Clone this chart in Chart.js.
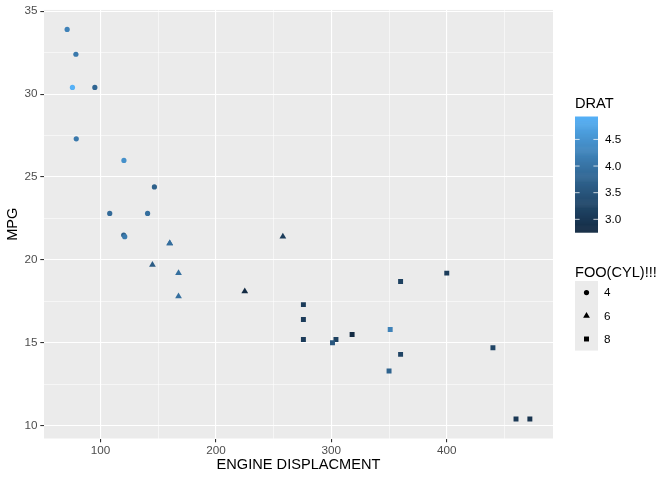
<!DOCTYPE html>
<html>
<head>
<meta charset="utf-8">
<script src="https://cdn.jsdelivr.net/npm/chart.js@4/dist/chart.umd.min.js"></script>
<style>
  html, body { margin: 0; padding: 0; background: #ffffff; }
  #wrap { width: 672px; height: 480px; }
</style>
</head>
<body>
<div id="wrap"><canvas id="chart" width="672" height="480"></canvas></div>
<script>
// mtcars: displacement vs mpg, colour = rear axle ratio, shape = cylinders
const carDisp = [160, 160, 108, 258, 360, 225, 360, 146.7, 140.8, 167.6, 167.6, 275.8, 275.8, 275.8, 472, 460,
                 440, 78.7, 75.7, 71.1, 120.1, 318, 304, 350, 400, 79, 120.3, 95.1, 351, 145, 301, 121];
const carMpg  = [21.0, 21.0, 22.8, 21.4, 18.7, 18.1, 14.3, 24.4, 22.8, 19.2, 17.8, 16.4, 17.3, 15.2, 10.4, 10.4,
                 14.7, 32.4, 30.4, 33.9, 21.5, 15.5, 15.2, 13.3, 19.2, 27.3, 26.0, 30.4, 15.8, 19.7, 15.0, 21.4];
const carDrat = [3.90, 3.90, 3.85, 3.08, 3.15, 2.76, 3.21, 3.69, 3.92, 3.92, 3.92, 3.07, 3.07, 3.07, 2.93, 3.00,
                 3.23, 4.08, 4.93, 4.22, 3.70, 2.76, 3.15, 3.73, 3.08, 4.08, 4.43, 3.77, 4.22, 3.62, 3.54, 4.11];
const carCyl  = [6, 6, 4, 6, 8, 6, 8, 4, 4, 6, 6, 8, 8, 8, 8, 8,
                 8, 4, 4, 4, 4, 8, 8, 8, 8, 4, 4, 4, 8, 6, 8, 4];

const cylLevels = [4, 6, 8];
const cylShapes = ['circle', 'triangle', 'rect'];
const cylRadius = [2.6, 3.9, 3.5];

const xMajor = [100, 200, 300, 400];
const xMinor = [150, 250, 350, 450];
const yMajor = [10, 15, 20, 25, 30, 35];
const yMinor = [12.5, 17.5, 22.5, 27.5, 32.5];
const dratTicks = [3.0, 3.5, 4.0, 4.5];

// ggplot-like continuous scale, interpolated in CIELAB
const lowCol = '#132B43', highCol = '#56B1F7';
const dratMin = Math.min(...carDrat), dratMax = Math.max(...carDrat);

function hexToRgb(h) {
    return [1, 3, 5].map(i => parseInt(h.substr(i, 2), 16));
}
function toLin(c) { c /= 255; return c <= 0.04045 ? c / 12.92 : Math.pow((c + 0.055) / 1.055, 2.4); }
function fromLin(c) {
    c = c <= 0.0031308 ? 12.92 * c : 1.055 * Math.pow(c, 1 / 2.4) - 0.055;
    return Math.round(Math.max(0, Math.min(1, c)) * 255);
}
function rgbToLab(rgb) {
    const [r, g, b] = rgb.map(toLin);
    const x = (0.4124 * r + 0.3576 * g + 0.1805 * b) / 0.95047;
    const y = 0.2126 * r + 0.7152 * g + 0.0722 * b;
    const z = (0.0193 * r + 0.1192 * g + 0.9505 * b) / 1.08883;
    const f = t => t > 0.008856 ? Math.cbrt(t) : 7.787 * t + 16 / 116;
    return [116 * f(y) - 16, 500 * (f(x) - f(y)), 200 * (f(y) - f(z))];
}
function labToRgb(lab) {
    const fy = (lab[0] + 16) / 116, fx = fy + lab[1] / 500, fz = fy - lab[2] / 200;
    const inv = t => t * t * t > 0.008856 ? t * t * t : (t - 16 / 116) / 7.787;
    const x = inv(fx) * 0.95047, y = inv(fy), z = inv(fz) * 1.08883;
    const r = 3.2406 * x - 1.5372 * y - 0.4986 * z;
    const g = -0.9689 * x + 1.8758 * y + 0.0415 * z;
    const b = 0.0557 * x - 0.2040 * y + 1.0570 * z;
    return [fromLin(r), fromLin(g), fromLin(b)];
}
const lowLab = rgbToLab(hexToRgb(lowCol)), highLab = rgbToLab(hexToRgb(highCol));
function dratColor(v) {
    const t = (v - dratMin) / (dratMax - dratMin);
    const lab = lowLab.map((l, i) => l + (highLab[i] - l) * t);
    const c = labToRgb(lab);
    return `rgb(${c[0]},${c[1]},${c[2]})`;
}

// one dataset per cylinder count (gives the shape)
const datasets = cylLevels.map((cyl, k) => {
    const idx = carCyl.map((c, i) => c === cyl ? i : -1).filter(i => i >= 0);
    return {
        label: String(cyl),
        data: idx.map(i => ({ x: carDisp[i], y: carMpg[i] })),
        pointStyle: cylShapes[k],
        pointRadius: cylRadius[k],
        pointBorderWidth: 0,
        pointBackgroundColor: idx.map(i => dratColor(carDrat[i])),
        pointBorderColor: 'rgba(0,0,0,0)',
        showLine: false
    };
});

const FONT = "'Liberation Sans', Arial, sans-serif";
Chart.defaults.font.family = FONT;

function expand(arr) {
    const lo = Math.min(...arr), hi = Math.max(...arr);
    const pad = (hi - lo) * 0.05;
    return [lo - pad, hi + pad];
}
const [xMin, xMax] = expand(carDisp);
const [yMin, yMax] = expand(carMpg);

const panelBg = {
    id: 'panelBg',
    beforeDraw(chart) {
        const a = chart.chartArea, ctx = chart.ctx;
        ctx.save();
        ctx.fillStyle = '#EBEBEB';
        ctx.fillRect(a.left, a.top, a.right - a.left, a.bottom - a.top);
        ctx.restore();
    }
};

const extras = {
    id: 'extras',
    afterDraw(chart) {
        const a = chart.chartArea, ctx = chart.ctx;
        ctx.save();
        // axis titles
        ctx.fillStyle = '#000000';
        ctx.font = `14.6px ${FONT}`;
        ctx.textAlign = 'center';
        ctx.textBaseline = 'middle';
        ctx.fillText('ENGINE DISPLACMENT', (a.left + a.right) / 2, 465);
        ctx.save();
        ctx.translate(13, (a.top + a.bottom) / 2);
        ctx.rotate(-Math.PI / 2);
        ctx.fillText('MPG', 0, 0);
        ctx.restore();

        // colour bar legend
        const lx = a.right + 22;
        ctx.textAlign = 'left';
        ctx.textBaseline = 'alphabetic';
        ctx.font = `14.6px ${FONT}`;
        ctx.fillText('DRAT', lx, 108);
        const barTop = 116.5, barH = 115.6, barW = 23;
        const steps = 120;
        for (let s = 0; s < steps; s++) {
            const v = dratMax - (s + 0.5) / steps * (dratMax - dratMin);
            ctx.fillStyle = dratColor(v);
            ctx.fillRect(lx, barTop + s * barH / steps, barW, barH / steps + 0.6);
        }
        ctx.font = `11.7px ${FONT}`;
        ctx.textBaseline = 'middle';
        dratTicks.forEach(t => {
            const y = barTop + (dratMax - t) / (dratMax - dratMin) * barH;
            ctx.strokeStyle = 'rgba(255,255,255,0.75)';
            ctx.lineWidth = 1;
            ctx.beginPath();
            ctx.moveTo(lx, y); ctx.lineTo(lx + 4.6, y);
            ctx.moveTo(lx + barW - 4.6, y); ctx.lineTo(lx + barW, y);
            ctx.stroke();
            ctx.fillStyle = '#000000';
            ctx.fillText(t.toFixed(1), lx + barW + 7, y + 0.5);
        });

        // shape legend
        ctx.textBaseline = 'alphabetic';
        ctx.font = `14.6px ${FONT}`;
        ctx.fillStyle = '#000000';
        ctx.fillText('FOO(CYL)!!!', lx, 277);
        const keyTop = 281, keyH = 23.2;
        ctx.fillStyle = '#EBEBEB';
        ctx.fillRect(lx, keyTop, barW, keyH * cylLevels.length);
        ctx.font = `11.7px ${FONT}`;
        ctx.textBaseline = 'middle';
        cylLevels.forEach((cyl, k) => {
            const yc = keyTop + k * keyH + keyH / 2;
            ctx.fillStyle = '#000000';
            ctx.strokeStyle = 'rgba(0,0,0,0)';
            Chart.helpers.drawPoint(ctx, {
                pointStyle: cylShapes[k], radius: cylRadius[k], rotation: 0, borderWidth: 0
            }, lx + barW / 2, yc);
            ctx.fillStyle = '#000000';
            ctx.fillText(String(cyl), lx + barW + 6, yc + 0.5);
        });
        ctx.restore();
    }
};

function gridOpts(majors) {
    return {
        color: '#FFFFFF',
        lineWidth: c => majors.includes(c.tick.value) ? 1.1 : 0.55,
        tickColor: c => majors.includes(c.tick.value) ? '#333333' : 'rgba(0,0,0,0)',
        tickWidth: 1.1,
        tickLength: 3.7,
        drawTicks: true
    };
}

new Chart(document.getElementById('chart'), {
    type: 'scatter',
    data: { datasets: datasets },
    plugins: [panelBg, extras],
    options: {
        responsive: false,
        animation: false,
        events: [],
        layout: { padding: { top: 6.8, right: 119, left: 0, bottom: 0 } },
        plugins: { legend: { display: false }, tooltip: { enabled: false } },
        scales: {
            x: {
                type: 'linear',
                min: xMin, max: xMax,
                border: { display: false },
                grid: gridOpts(xMajor),
                afterBuildTicks: s => { s.ticks = [...xMajor, ...xMinor].sort((a, b) => a - b).map(v => ({ value: v })); },
                afterFit: s => { s.height = 41.5; },
                ticks: {
                    autoSkip: false, maxRotation: 0, padding: 1.5,
                    color: '#4D4D4D', font: { size: 11.7 },
                    callback: v => xMajor.includes(v) ? String(v) : ''
                }
            },
            y: {
                type: 'linear',
                min: yMin, max: yMax,
                border: { display: false },
                grid: gridOpts(yMajor),
                afterBuildTicks: s => { s.ticks = [...yMajor, ...yMinor].sort((a, b) => a - b).map(v => ({ value: v })); },
                afterFit: s => { s.width = 44; },
                ticks: {
                    autoSkip: false, padding: 2.9,
                    color: '#4D4D4D', font: { size: 11.7 },
                    callback: v => yMajor.includes(v) ? String(v) : ''
                }
            }
        }
    }
});
</script>
</body>
</html>
